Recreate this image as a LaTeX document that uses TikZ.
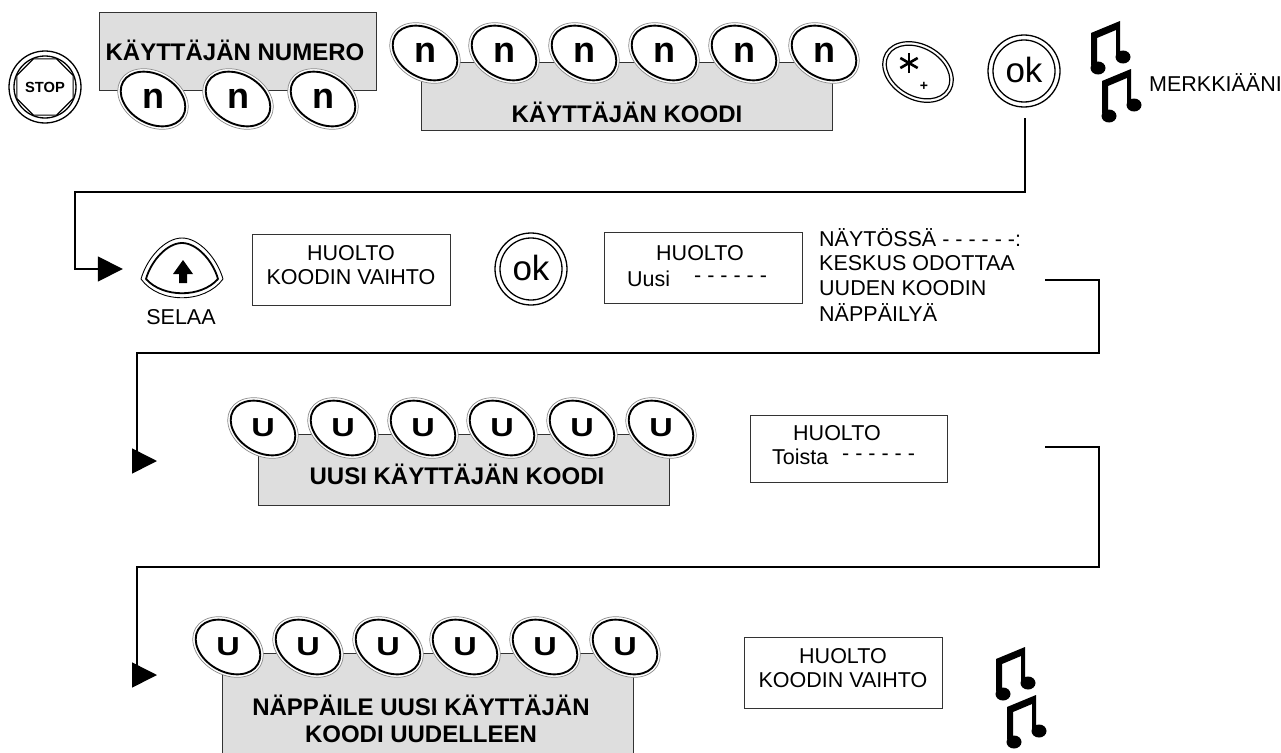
\documentclass[tikz,border=0pt]{standalone}
\usepackage{fontspec}
\setmainfont{Liberation Sans}
\usetikzlibrary{arrows.meta,positioning,shapes.geometric}

\newcommand{\regfont}{\fontsize{21.5}{24.5}\selectfont}
\newcommand{\boldfont}{\fontsize{24}{27}\selectfont\bfseries}

\tikzset{
  notes/.pic={
    \foreach \dx/\dy in {0/0,11/48} {
      \fill[black, shift={(\dx,\dy)}] (0,0) -- (29,-12) -- (29,24) -- (25,24) -- (25,-3) -- (6,5) -- (6,32) -- (0,32) -- cycle;
      \fill[black, shift={(\dx,\dy)}] (7,35) ellipse [x radius=7.5, y radius=6.5];
      \fill[black, shift={(\dx,\dy)}] (32,24) ellipse [x radius=7.5, y radius=6.5];
    }
  }
}

\begin{document}
\begin{tikzpicture}[
  x=1pt, y=-1pt,
  graybox/.style={draw=black!80, line width=0.9pt, fill=black!13, inner sep=0pt},
  infobox/.style={draw=black!80, line width=0.9pt, fill=white, align=center, font=\regfont, inner sep=0pt},
  keyouter/.style={draw=black!45, line width=0.7pt, fill=white, shape=ellipse, inner sep=0pt,
    minimum width=75pt, minimum height=55pt, rotate=-30},
  keyinner/.style={draw=black, line width=1.9pt, fill=white, shape=ellipse, inner sep=0pt,
    minimum width=69pt, minimum height=49pt, rotate=-30},
  keyn/.style={font=\fontsize{36}{36}\selectfont\bfseries, inner sep=0pt},
  ring/.style={draw=black, line width=1.3pt, shape=circle, inner sep=0pt},
  txt/.style={font=\regfont, inner sep=0pt},
  boldtxt/.style={font=\boldfont, inner sep=0pt, align=center},
  arr/.style={-{Triangle[length=25pt, width=25pt]}, line width=1.6pt}
]
  \useasboundingbox (0,0) rectangle (1281,752);

  % gray boxes behind the keys
  \node[graybox, minimum width=277pt, minimum height=78pt] (nrobox) at (238,51) {};
  \node[boldtxt] (nrolabel) at (235,50) {K\"AYTT\"AJ\"AN NUMERO};
  \node[graybox, minimum width=411pt, minimum height=68pt] (koodibox) at (627,96) {};
  \node[boldtxt] (koodilabel) at (627,112) {K\"AYTT\"AJ\"AN KOODI};
  \node[graybox, minimum width=411pt, minimum height=71pt] (uusibox) at (464,470) {};
  \node[boldtxt] (uusilabel) at (457,474) {UUSI K\"AYTT\"AJ\"AN KOODI};
  \node[graybox, minimum width=411pt, minimum height=102pt] (toistobox) at (428,704) {};
  \node[boldtxt] (toistolabel) at (421,719) {N\"APP\"AILE UUSI K\"AYTT\"AJ\"AN\\KOODI UUDELLEEN};

  % keys
  \foreach \name/\x/\y in {a1/153/99, a2/238/99, a3/323/99,
      b1/425/53, b2/504/53, b3/584/53, b4/664/53, b5/744/53, b6/824/53} {
    \node[keyouter] (\name o) at (\x,\y) {};
    \node[keyinner] (\name) at (\x,\y) {};
    \node[keyn] (\name l) at (\x,\y) {n};
  }
  \foreach \name/\x/\y in {c1/263/428, c2/343/428, c3/423/428, c4/502/428, c5/582/428, c6/661/428,
      d1/228/647, d2/308/647, d3/388/647, d4/465/647, d5/545/647, d6/625/647} {
    \node[keyouter] (\name o) at (\x,\y) {};
    \node[keyinner] (\name) at (\x,\y) {};
    \node[keyn, font=\fontsize{26}{26}\selectfont\bfseries] (\name l) at (\x,\y) {\scalebox{1.25}[1]{U}};
  }

  % top row
  \node[ring, minimum size=72pt] (stopa) at (45,87) {};
  \node[ring, minimum size=62pt] (stopb) at (45,87) {};
  \node[draw=black, line width=1.2pt, shape=regular polygon, regular polygon sides=8, inner sep=0pt,
    minimum size=49pt, font=\fontsize{14.7}{15}\selectfont\bfseries] (stop) at (45,87) {STOP};

  \node[draw=black, line width=1.2pt, shape=ellipse, inner sep=0pt, minimum width=75pt, minimum height=55pt, rotate=-30] (stara) at (918,72) {};
  \node[draw=black, line width=1.2pt, shape=ellipse, inner sep=0pt, minimum width=68pt, minimum height=48pt, rotate=-30] (starb) at (918,72) {};
  \coordinate (star) at (909,63);
  \foreach \a in {90,30,150} {
    \draw[line width=2.6pt, shift={(star)}] (\a:10) -- (\a+180:10);
  }
  \node[font=\fontsize{14}{14}\selectfont\bfseries, inner sep=0pt] (plus) at (924,86) {+};

  \node[ring, minimum size=72pt] (oka) at (1024,71) {};
  \node[ring, minimum size=62pt] (okb) at (1024,71) {};
  \node[font=\fontsize{35}{35}\selectfont, inner sep=0pt] (okl) at (1024,70) {ok};

  \pic at (1091,33) {notes};
  \node[txt, anchor=west] (merkki) at (1149,83) {MERKKI\"A\"ANI};

  % second row
  \coordinate (c1a) at (1025,118);
  \coordinate (c1b) at (1025,192);
  \coordinate (c1c) at (75,192);
  \coordinate (c1d) at (75,269);
  \node[minimum size=0pt, inner sep=0pt] (selkey) at (123,269) {};
  \draw[arr] (c1a) -- (c1b) -- (c1c) -- (c1d) -- (selkey);

  \draw[line width=0.9pt, line join=round] (141,279) .. controls (147,258) and (165,238) .. (182,238)
    .. controls (199,238) and (217,258) .. (223,279) .. controls (205,304) and (159,304) .. cycle;
  \draw[line width=1.8pt, line join=round] (146,279) .. controls (151,261) and (167,243) .. (182,243)
    .. controls (197,243) and (213,261) .. (218,279) .. controls (201,298) and (163,298) .. cycle;
  \fill[black] (183,260) -- (193,274) -- (187,274) -- (187,283) -- (179,283) -- (179,274) -- (173,274) -- cycle;
  \node[txt] (selaa) at (181,317) {SELAA};
  \node[infobox, minimum width=198pt, minimum height=71pt] (huolto1) at (351,270) {};
  \node[txt, align=center] (huolto1l) at (351,265) {HUOLTO\\KOODIN VAIHTO};
  \node[ring, minimum size=72pt] (ok2a) at (531,269) {};
  \node[ring, minimum size=62pt] (ok2b) at (531,269) {};
  \node[font=\fontsize{35}{35}\selectfont, inner sep=0pt] (ok2l) at (531,268) {ok};
  \node[infobox, minimum width=198pt, minimum height=71pt] (huolto2) at (703,268) {};
  \node[txt] (huolto2a) at (700,253) {HUOLTO};
  \node[txt, anchor=west] (huolto2b) at (627,279) {Uusi};
  \node[txt, anchor=west] (huolto2c) at (694,279) {- - - - - -};
  \node[txt, anchor=west] (naytto1) at (819,238) {N\"AYT\"OSS\"A - - - - - -:};
  \node[txt, anchor=west] (naytto2) at (819,263) {KESKUS ODOTTAA};
  \node[txt, anchor=west] (naytto3) at (819,288) {UUDEN KOODIN};
  \node[txt, anchor=west] (naytto4) at (819,312) {N\"APP\"AILY\"A};

  \coordinate (c2a) at (1045,280);
  \coordinate (c2b) at (1099,280);
  \coordinate (c2c) at (1099,353);
  \coordinate (c2d) at (137,353);
  \coordinate (c2e) at (137,461);
  \coordinate (c2f) at (157,461);
  \draw[arr] (c2a) -- (c2b) -- (c2c) -- (c2d) -- (c2e) -- (c2f);

  % third row
  \node[infobox, minimum width=197pt, minimum height=67pt] (huolto3) at (849,449) {};
  \node[txt] (huolto3a) at (837,433) {HUOLTO};
  \node[txt, anchor=west] (huolto3b) at (772,457) {Toista};
  \node[txt, anchor=west] (huolto3c) at (842,457) {- - - - - -};

  \coordinate (c3a) at (1045,447);
  \coordinate (c3b) at (1099,447);
  \coordinate (c3c) at (1099,567);
  \coordinate (c3d) at (137,567);
  \coordinate (c3e) at (137,675);
  \coordinate (c3f) at (157,675);
  \draw[arr] (c3a) -- (c3b) -- (c3c) -- (c3d) -- (c3e) -- (c3f);

  % last row
  \node[infobox, minimum width=198pt, minimum height=71pt] (huolto4) at (843,673) {};
  \node[txt, align=center] (huolto4l) at (843,668) {HUOLTO\\KOODIN VAIHTO};
  \pic at (996,659) {notes};
\end{tikzpicture}
\end{document}
